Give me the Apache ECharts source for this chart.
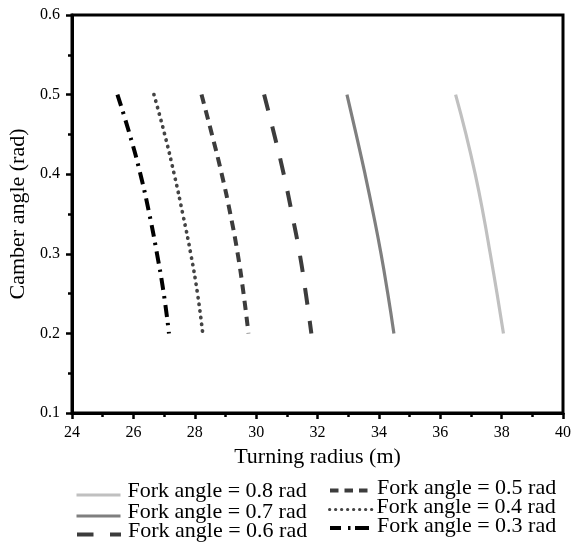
<!DOCTYPE html>
<html><head><meta charset="utf-8">
<script src="https://cdn.jsdelivr.net/npm/echarts@6/dist/echarts.min.js"></script>
<style>html,body{margin:0;padding:0;background:#fff}#c{width:572px;height:549px}</style>
</head><body><div id="c"></div>
<script>
const camber = [0.5, 0.45, 0.4, 0.35, 0.3, 0.25, 0.2];
const r08 = [36.50, 36.84, 37.14, 37.40, 37.63, 37.85, 38.06];
const r07 = [32.96, 33.26, 33.55, 33.82, 34.07, 34.29, 34.49];
const r06 = [30.26, 30.59, 30.90, 31.17, 31.42, 31.62, 31.80];
const r05 = [28.22, 28.56, 28.88, 29.16, 29.40, 29.59, 29.75];
const r04 = [26.67, 27.02, 27.33, 27.61, 27.87, 28.09, 28.26];
const r03 = [25.48, 25.88, 26.23, 26.52, 26.77, 26.99, 27.16];
const names = ['Fork angle = 0.8 rad','Fork angle = 0.7 rad','Fork angle = 0.6 rad','Fork angle = 0.5 rad','Fork angle = 0.4 rad','Fork angle = 0.3 rad'];
const xTicks = [24, 26, 28, 30, 32, 34, 36, 38, 40];
const yTicks = [0.1, 0.2, 0.3, 0.4, 0.5, 0.6];

const font = '"Liberation Serif", "Times New Roman", serif';
const radii = [r08, r07, r06, r05, r04, r03];
const styles = [
  {color:'#c0c0c0', width:3.2, type:'solid'},
  {color:'#7f7f7f', width:3.2, type:'solid'},
  {color:'#3c3c3c', width:4, type:[16.5,16.5]},
  {color:'#3c3c3c', width:4, type:[9.5,6.7]},
  {color:'#444444', width:3.7, type:[0.3,6.4], cap:'round'},
  {color:'#000000', width:4, type:[12,6,2.5,6.5]}
];
const series = radii.map((r,i)=>({
  name: names[i], type:'line', smooth:true, symbol:'none',
  data: r.map((x,j)=>[x, camber[j]]),
  lineStyle: {color:styles[i].color, width:styles[i].width, type:styles[i].type, cap:styles[i].cap||'butt'},
  itemStyle: {color:styles[i].color}
}));
// legend layout: [left, top, itemWidth, textPaddingLeft, lineHeight]
const legendPos = [
  [75, 480.5, 44, 2, 7],
  [75, 501.5, 44, 2, 7],
  [75, 520, 44, 2, 7],
  [328, 477.5, 39, 3, 4],
  [328, 496.5, 43, -1, 4],
  [328, 515, 39, 3, 4]
];
const legendLine = [
  {width:3},{width:3},{width:4, type:[16.5,16.5]},{width:4, type:[8.5,6]},{width:3, type:[0.3,5.7], cap:'round'},{width:4, type:[11,7,2.5,4.5,14,10]}
];
const legends = names.map((n,i)=>({
  data:[n], orient:'vertical', left:legendPos[i][0], top:legendPos[i][1], padding:0,
  itemWidth:legendPos[i][2], itemHeight:14, itemGap:0,
  itemStyle:{opacity:0},
  lineStyle:legendLine[i],
  formatter: name => name + '\n ',
  textStyle:{fontFamily:font, fontSize:22, color:'#000', lineHeight:legendPos[i][4], padding:[0,0,0,legendPos[i][3]]}
}));
const chart = echarts.init(document.getElementById('c'));
chart.setOption({
  animation:false,
  backgroundColor:'#fff',
  grid:{left:72, top:15, right:9, bottom:136, show:true, borderColor:'#000', borderWidth:3, outerBoundsMode:'none', containLabel:false},
  xAxis:{type:'value', min:xTicks[0], max:xTicks[xTicks.length-1], interval:2,
    name:'Turning radius (m)', nameLocation:'middle', nameGap:32,
    nameTextStyle:{fontFamily:font, fontSize:22, color:'#000'},
    axisLine:{lineStyle:{color:'#000', width:3}},
    axisTick:{length:6, lineStyle:{width:2.5, color:'#000'}},
    minorTick:{show:true, splitNumber:2, length:4, lineStyle:{width:2.5, color:'#000'}},
    splitLine:{show:false},
    axisLabel:{fontFamily:font, fontSize:16, color:'#000', margin:12}
  },
  yAxis:{type:'value', min:yTicks[0], max:yTicks[yTicks.length-1], interval:0.1,
    name:'Camber angle (rad)', nameLocation:'middle', nameGap:39,
    nameTextStyle:{fontFamily:font, fontSize:22, color:'#000'},
    axisLine:{lineStyle:{color:'#000', width:3}},
    axisTick:{length:6, lineStyle:{width:2.5, color:'#000'}},
    minorTick:{show:true, splitNumber:2, length:4, lineStyle:{width:2.5, color:'#000'}},
    splitLine:{show:false},
    axisLabel:{fontFamily:font, fontSize:16, color:'#000', margin:12, formatter:v=>v.toFixed(1)}
  },
  legend: legends,
  series: series
});
</script></body></html>
